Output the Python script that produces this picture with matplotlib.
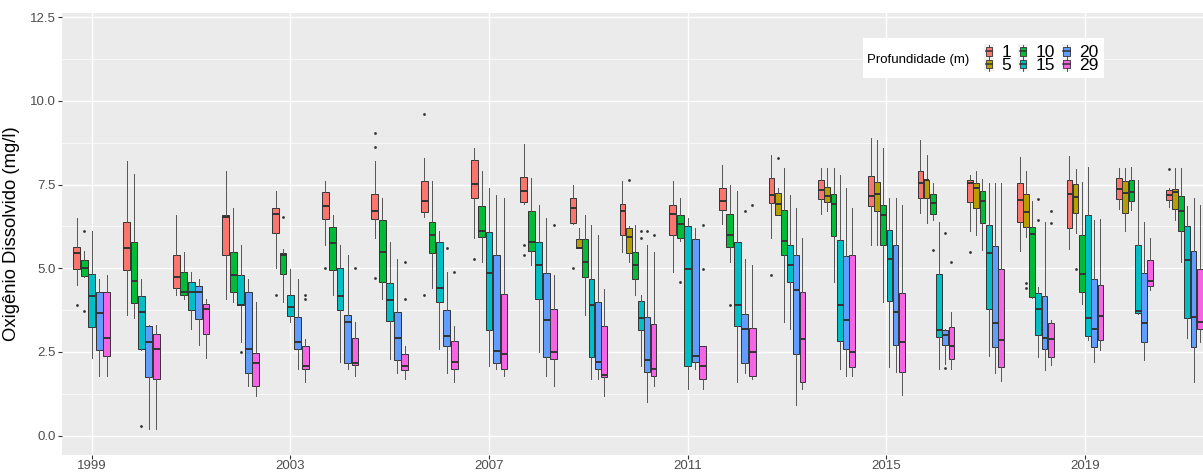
import matplotlib
matplotlib.use("Agg")
import matplotlib.pyplot as plt
from matplotlib.legend_handler import HandlerBase
from matplotlib.patches import Rectangle, Patch
from matplotlib.lines import Line2D

plt.rcParams['font.family'] = ['Liberation Sans', 'DejaVu Sans']

years = list(range(1999, 2022))
depths = ["1", "5", "10", "15", "20", "29"]
colors = ["#F8766D", "#B79F00", "#00BA38", "#00BFC4", "#619CFF", "#F564E3"]
N = None

# whisker low, Q1, median, Q3, whisker high per depth (one value per year, None = no data)
whisk_lo = {
    "1":  [4.51, 3.59, 4.21, 4.09, 5.00, 5.69, 5.92, 6.53, 5.92, 6.91, 6.32, 5.50, 4.89, 6.32, 5.92, 6.61, 5.69, 6.66, 6.10, 5.52, 5.57, 6.77, 6.82],
    "5":  [N, N, N, N, N, N, N, N, N, N, 5.60, 5.20, N, N, 6.60, 6.72, 5.69, 6.36, 6.00, 5.94, 6.04, 6.10, 6.45],
    "10": [4.73, 3.50, 4.09, 3.99, 3.99, 4.21, 4.09, 4.41, 5.19, 5.09, 3.59, 4.21, 5.81, 5.20, 3.40, 4.60, 3.99, 6.43, 5.56, 4.10, 3.93, 6.75, 5.19],
    "15": [2.31, 2.55, 3.19, 2.79, 3.39, 2.19, 2.30, 2.60, 2.08, 2.50, 1.68, 2.09, 1.40, 1.59, 3.19, 1.99, 2.05, 2.00, 2.38, 2.34, 2.85, 3.62, 2.93],
    "20": [1.79, 0.20, 2.70, 1.48, 1.99, 1.98, 1.88, 1.88, 1.99, 1.79, 1.68, 1.01, 2.00, 1.88, 0.90, 1.79, 1.90, 2.15, 1.88, 1.96, 2.19, 2.26, 1.61],
    "29": [1.79, 0.20, 2.31, 1.19, 1.59, 1.79, 1.68, 1.59, 1.79, 1.48, 1.19, 1.49, 1.40, 1.68, 1.39, 1.79, 1.22, 2.00, 1.64, 2.11, 2.55, 4.34, 2.80],
}
q1 = {
    "1":  [4.97, 4.94, 4.42, 5.40, 6.05, 6.46, 6.46, 6.67, 7.11, 6.99, 6.34, 6.00, 5.99, 6.75, 6.95, 7.08, 6.85, 7.10, 6.98, 6.38, 6.21, 7.07, 7.04],
    "5":  [N, N, N, N, N, N, N, N, N, N, 5.60, 5.47, N, N, 6.60, 6.98, 6.70, 7.10, 6.79, 6.23, 6.64, 6.66, 6.77],
    "10": [4.76, 3.95, 4.21, 4.29, 4.84, 4.94, 4.59, 5.45, 5.95, 5.51, 4.73, 4.69, 5.92, 5.65, 5.40, 5.97, 5.71, 6.63, 6.36, 4.14, 4.29, 7.01, 6.12],
    "15": [3.26, 2.60, 3.74, 3.90, 3.58, 3.74, 3.43, 3.99, 3.16, 4.08, 2.34, 3.16, 2.07, 3.29, 4.59, 2.82, 4.02, 2.94, 3.79, 3.01, 2.97, 3.67, 3.50],
    "20": [2.57, 1.75, 3.49, 1.87, 2.58, 2.18, 2.25, 2.69, 2.16, 2.36, 1.98, 1.89, 2.19, 2.18, 2.43, 2.58, 2.71, 2.72, 2.64, 2.58, 2.64, 2.81, 2.65],
    "29": [2.38, 1.68, 3.03, 1.47, 1.98, 2.11, 1.96, 1.98, 1.98, 2.29, 1.74, 1.79, 1.68, 1.78, 1.59, 2.04, 1.90, 2.29, 2.05, 2.34, 2.87, 4.48, 3.20],
}
med = {
    "1":  [5.46, 5.61, 4.75, 6.53, 6.61, 6.86, 6.72, 7.01, 7.52, 7.32, 6.80, 6.72, 6.61, 7.01, 7.20, 7.33, 7.16, 7.55, 7.56, 7.03, 7.22, 7.38, 7.19],
    "5":  [N, N, N, N, N, N, N, N, N, N, 5.60, 5.95, N, N, 6.92, 7.16, 7.21, 7.63, 7.39, 6.68, 7.14, 7.25, 7.27],
    "10": [5.01, 4.61, 4.29, 4.81, 5.39, 5.75, 5.49, 5.99, 6.12, 5.79, 5.20, 5.10, 6.32, 6.00, 5.81, 6.91, 6.58, 6.95, 7.02, 6.02, 4.83, 7.29, 6.71],
    "15": [4.16, 3.70, 4.29, 3.90, 3.84, 4.16, 4.04, 4.41, 4.85, 5.10, 3.90, 3.50, 4.99, 3.90, 5.10, 3.90, 5.28, 3.17, 5.46, 3.78, 3.50, 3.72, 5.26],
    "20": [3.65, 2.79, 4.29, 2.59, 2.79, 3.39, 2.93, 2.99, 2.54, 3.45, 2.19, 2.26, 2.38, 3.19, 4.36, 3.45, 3.70, 3.00, 3.36, 2.91, 3.18, 3.38, 3.55],
    "29": [2.93, 2.60, 3.78, 2.18, 2.08, 2.18, 2.08, 2.19, 2.44, 2.50, 1.81, 2.00, 2.08, 2.50, 2.90, 2.50, 2.79, 2.68, 2.86, 2.88, 3.56, 4.62, 3.40],
}
q3 = {
    "1":  [5.65, 6.39, 5.40, 6.59, 6.79, 7.29, 7.23, 7.62, 8.23, 7.74, 7.09, 6.93, 6.90, 7.39, 7.69, 7.63, 7.76, 7.92, 7.63, 7.56, 7.63, 7.69, 7.33],
    "5":  [N, N, N, N, N, N, N, N, N, N, 5.89, 6.19, N, N, 7.24, 7.42, 7.58, 7.65, 7.54, 7.21, 7.51, 7.61, 7.37],
    "10": [5.26, 5.78, 4.88, 5.48, 5.46, 6.24, 6.43, 6.39, 6.85, 6.71, 5.89, 5.49, 6.59, 6.63, 6.75, 7.23, 6.90, 7.23, 7.31, 6.24, 5.99, 7.65, 7.15],
    "15": [4.83, 4.16, 4.59, 4.80, 4.21, 5.01, 4.56, 5.78, 6.09, 5.78, 4.68, 4.03, 6.27, 5.79, 5.71, 5.85, 6.14, 4.82, 6.30, 4.27, 6.58, 5.69, 6.27],
    "20": [4.28, 3.29, 4.48, 4.29, 3.55, 3.61, 3.69, 3.75, 5.40, 4.87, 3.99, 3.55, 5.89, 3.63, 5.40, 5.37, 5.70, 3.17, 5.67, 4.18, 4.69, 4.86, 5.52],
    "29": [4.28, 3.05, 3.93, 2.48, 2.69, 2.91, 2.45, 2.83, 4.23, 3.78, 3.29, 3.35, 2.68, 3.23, 4.28, 5.40, 4.26, 3.25, 4.99, 3.37, 4.51, 5.24, 4.98],
}
whisk_hi = {
    "1":  [6.51, 8.22, 6.60, 7.91, 7.31, 7.62, 8.22, 8.31, 8.60, 8.70, 7.50, 7.62, 7.62, 8.10, 8.40, 8.00, 8.90, 8.82, 7.80, 8.32, 8.37, 8.00, 7.39],
    "5":  [N, N, N, N, N, N, N, N, N, N, 6.20, 6.25, N, N, 7.41, 8.00, 8.82, 8.40, 7.91, 7.91, 7.98, 8.00, 8.00],
    "10": [5.51, 7.82, 5.49, 6.80, 5.59, 6.59, 7.11, 7.62, 7.91, 7.70, 6.59, 6.30, 7.11, 7.50, 8.00, 8.00, 8.61, 7.56, 7.67, 7.00, 7.57, 8.02, 8.00],
    "15": [6.10, 4.68, 4.90, 5.69, 4.99, 5.69, 5.79, 6.10, 7.39, 6.90, 6.30, 4.21, 6.50, 7.31, 7.20, 7.80, 7.11, 6.39, 7.56, 4.43, 8.03, 7.65, 6.87],
    "20": [4.68, 3.30, 4.68, 4.68, 4.68, 5.39, 5.29, 4.89, 7.19, 6.50, 6.00, 5.69, 6.20, 5.29, 6.81, 7.41, 7.10, 3.20, 7.56, 6.38, 6.45, 6.39, 7.11],
    "29": [4.80, 3.30, 4.09, 3.99, 2.89, 3.39, 2.69, 3.29, 7.11, 4.79, 4.39, 5.49, 2.69, 5.09, 5.90, 6.81, 6.88, 3.69, 7.56, 3.46, 6.48, 5.90, 6.88],
}
# outliers: (year, depth, value)
outliers = [
    (1999, "1", 3.89), (1999, "10", 6.12), (1999, "10", 3.71),
    (2000, "15", 0.28), (2002, "15", 2.49),
    (2003, "1", 4.21), (2003, "10", 6.52), (2003, "29", 4.21), (2003, "29", 4.09),
    (2004, "1", 5.00), (2004, "29", 5.00),
    (2005, "1", 9.03), (2005, "1", 8.63), (2005, "1", 4.70), (2005, "29", 5.19), (2005, "29", 4.09),
    (2006, "1", 9.60), (2006, "1", 4.20), (2006, "20", 5.60), (2006, "29", 4.89),
    (2007, "1", 5.29),
    (2008, "1", 5.69), (2008, "1", 5.40), (2008, "29", 6.30),
    (2009, "1", 5.00),
    (2010, "5", 7.63), (2010, "15", 6.12), (2010, "15", 5.92), (2010, "20", 6.12), (2010, "29", 6.01),
    (2011, "10", 4.60), (2011, "29", 6.30), (2011, "29", 4.99),
    (2012, "10", 3.90), (2012, "20", 6.70), (2012, "29", 6.90),
    (2013, "1", 4.80), (2013, "5", 8.30),
    (2016, "10", 5.55), (2016, "20", 6.04), (2016, "20", 2.02), (2016, "29", 5.20),
    (2017, "1", 5.50),
    (2018, "5", 4.55), (2018, "5", 4.42), (2018, "15", 7.08), (2018, "15", 6.43),
    (2018, "29", 6.72), (2018, "29", 6.35),
    (2019, "5", 4.98),
    (2021, "1", 7.96),
]

EDGE = "#333333"


class BoxKeyHandler(HandlerBase):
    def create_artists(self, legend, orig_handle, xdescent, ydescent,
                       width, height, fontsize, trans):
        x0, y0 = -xdescent, -ydescent
        cx = x0 + width / 2
        bw = width * 0.66
        bg = Rectangle((x0, y0), width, height, fc="#F2F2F2", ec="none", transform=trans)
        wl = Line2D([cx, cx], [y0 + height * 0.04, y0 + height * 0.96], color=EDGE, lw=0.6, transform=trans)
        box = Rectangle((cx - bw / 2, y0 + height * 0.2), bw, height * 0.6,
                        fc=orig_handle.get_facecolor(), ec=EDGE, lw=0.6, transform=trans)
        ml = Line2D([cx - bw / 2, cx + bw / 2], [y0 + height / 2] * 2, color=EDGE, lw=1.1, transform=trans)
        return [bg, wl, box, ml]


W, H = 1203, 472
fig = plt.figure(figsize=(W / 100, H / 100), dpi=100)
ax = fig.add_axes([62 / W, 17 / H, 1152 / W, 442 / H])
ax.set_facecolor("#EBEBEB")

xmin, xmax = 1998.4, 2021.6
ax.set_xlim(xmin, xmax)
ax.set_ylim(-0.58, 12.63)

for y in [1.25, 3.75, 6.25, 8.75, 11.25]:
    ax.axhline(y, color="white", lw=0.5, zorder=0)
for y in [0, 2.5, 5, 7.5, 10, 12.5]:
    ax.axhline(y, color="white", lw=1.0, zorder=0)
for x in range(1999, 2022, 4):
    ax.axvline(x, color="white", lw=1.0, zorder=0)

group_w = 0.75
for i, yr in enumerate(years):
    present = [d for d in depths if med[d][i] is not None]
    n = len(present)
    slot = group_w / n
    for k, d in enumerate(present):
        pos = yr - group_w / 2 + (k + 0.5) * slot
        fl = [v for (oy, od, v) in outliers if oy == yr and od == d]
        stats = [dict(whislo=whisk_lo[d][i], q1=q1[d][i], med=med[d][i],
                      q3=q3[d][i], whishi=whisk_hi[d][i], fliers=fl)]
        c = colors[depths.index(d)]
        ax.bxp(stats, positions=[pos], widths=slot * 0.92, patch_artist=True,
               showcaps=False, manage_ticks=False,
               boxprops=dict(facecolor=c, edgecolor=EDGE, lw=0.7),
               whiskerprops=dict(color="#555555", lw=0.7),
               medianprops=dict(color=EDGE, lw=1.4),
               flierprops=dict(marker="o", markersize=2.0, markerfacecolor=EDGE,
                               markeredgecolor=EDGE, markeredgewidth=0))

ax.set_xticks(range(1999, 2022, 4))
ax.set_yticks([0, 2.5, 5, 7.5, 10, 12.5])
ax.set_yticklabels(["0.0", "2.5", "5.0", "7.5", "10.0", "12.5"])
ax.tick_params(axis="both", length=2.75, width=0.8, color=EDGE, labelcolor="#4D4D4D",
               labelsize=9.5, pad=1.5)
ax.tick_params(axis="x", pad=0.8)
for s in ax.spines.values():
    s.set_visible(False)

ax.set_ylabel("Oxigênio Dissolvido (mg/l)", fontsize=13.3, color="black")
ax.yaxis.set_label_coords((20 - 62) / 1152, 0.5)

# legend box with title on the left
lg_bg = Rectangle((863 / W, 1 - 78 / H), (1104 - 863) / W, 40 / H, transform=fig.transFigure,
                  fc="white", ec="none", zorder=4.5)
ax.add_patch(lg_bg)
ax.text(867 / W, 1 - 60 / H, "Profundidade (m)", transform=fig.transFigure,
        fontsize=9.5, va="center", ha="left", zorder=6)
handles = [Patch(facecolor=c) for c in colors]
leg = ax.legend(handles, depths, ncol=3, frameon=False, loc="upper left",
                bbox_to_anchor=(984 / W, 1 - 44 / H), bbox_transform=fig.transFigure,
                handler_map={Patch: BoxKeyHandler()}, fontsize=12.5,
                handlelength=0.55, handleheight=0.9, handletextpad=0.45,
                labelspacing=-0.2, columnspacing=0.4, borderpad=0, borderaxespad=0)
leg.set_zorder(6)

fig.savefig("out.png", dpi=100)
